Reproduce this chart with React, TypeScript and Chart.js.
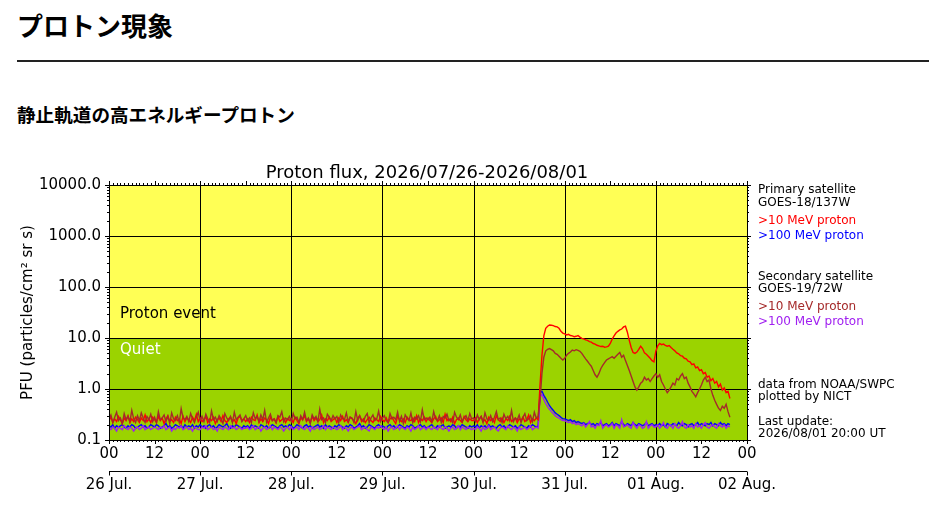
import React, { useRef, useEffect } from "react";
import { Chart, registerables } from "chart.js";

Chart.register(...registerables);

// 30-minute values from 26 Jul 00 UT, two rows per day
const STEP_HOURS = 0.5;

const GOES18_P10 = [
  0.24, 0.28, 0.22, 0.26, 0.23, 0.29, 0.25, 0.21, 0.27, 0.24, 0.30, 0.22, 0.26, 0.23, 0.28, 0.25, 0.22, 0.27, 0.24, 0.31, 0.23, 0.26, 0.22, 0.28,
  0.25, 0.22, 0.29, 0.24, 0.27, 0.21, 0.26, 0.30, 0.23, 0.25, 0.22, 0.28, 0.24, 0.26, 0.21, 0.29, 0.23, 0.27, 0.25, 0.22, 0.28, 0.24, 0.32, 0.23,
  0.27, 0.23, 0.25, 0.29, 0.22, 0.26, 0.24, 0.28, 0.21, 0.25, 0.27, 0.23, 0.30, 0.24, 0.22, 0.26, 0.28, 0.23, 0.25, 0.21, 0.27, 0.29, 0.24, 0.26,
  0.23, 0.26, 0.22, 0.28, 0.25, 0.24, 0.31, 0.22, 0.26, 0.23, 0.27, 0.25, 0.21, 0.28, 0.24, 0.26, 0.22, 0.29, 0.23, 0.25, 0.27, 0.22, 0.26, 0.24,
  0.26, 0.22, 0.28, 0.24, 0.21, 0.27, 0.25, 0.30, 0.23, 0.26, 0.22, 0.29, 0.24, 0.27, 0.23, 0.25, 0.31, 0.22, 0.26, 0.24, 0.28, 0.23, 0.25, 0.27,
  0.22, 0.27, 0.24, 0.29, 0.23, 0.25, 0.22, 0.28, 0.26, 0.24, 0.21, 0.27, 0.30, 0.23, 0.26, 0.22, 0.25, 0.28, 0.24, 0.22, 0.27, 0.25, 0.23, 0.29,
  0.25, 0.23, 0.27, 0.22, 0.26, 0.28, 0.24, 0.21, 0.29, 0.25, 0.23, 0.26, 0.22, 0.28, 0.25, 0.24, 0.27, 0.23, 0.30, 0.22, 0.26, 0.24, 0.28, 0.23,
  0.27, 0.24, 0.22, 0.26, 0.29, 0.23, 0.25, 0.27, 0.22, 0.32, 0.24, 0.26, 0.23, 0.28, 0.21, 0.25, 0.27, 0.24, 0.22, 0.29, 0.25, 0.23, 0.26, 0.24,
  0.24, 0.27, 0.22, 0.26, 0.29, 0.23, 0.25, 0.21, 0.28, 0.24, 0.26, 0.22, 0.30, 0.25, 0.23, 0.27, 0.22, 0.26, 0.24, 0.29, 0.23, 0.25, 0.27, 0.22,
  0.26, 0.24, 0.28, 0.23, 0.25, 0.31, 0.22, 0.26, 0.24, 0.27, 0.25, 1.2, 4.5, 11, 15.5, 17, 18, 17.8, 17.5, 16.8, 16.5, 15.5, 13.5, 12.5,
  12, 11.5, 11.8, 11.2, 11, 10.6, 10.8, 11.2, 10.4, 9.8, 9.6, 9.2, 9.0, 8.5, 8.3, 7.8, 7.6, 7.2, 7.0, 6.8, 6.9, 6.6, 6.7, 6.9,
  7.8, 9.5, 11, 12.5, 13.5, 14.4, 15, 16.5, 17, 13, 9, 6.5, 5.2, 5.0, 5.3, 6.0, 6.9, 6.2, 5.1, 4.8, 4.4, 4.0, 3.6, 3.4,
  5.5, 7.0, 7.8, 7.4, 7.6, 7.2, 6.9, 7.1, 6.5, 6.0, 5.6, 5.1, 4.9, 4.5, 4.4, 4.0, 3.9, 3.5, 3.4, 3.0, 3.1, 2.6, 2.7, 2.3,
  2.4, 2.0, 2.1, 1.7, 1.8, 1.45, 1.6, 1.3, 1.4, 1.1, 1.25, 0.95, 1.05, 0.85, 0.9, 0.65,
];

const GOES18_P100 = [
  0.19, 0.18, 0.20, 0.17, 0.19, 0.18, 0.19, 0.20, 0.18, 0.17, 0.19, 0.18, 0.20, 0.19, 0.17, 0.18, 0.19, 0.20, 0.18, 0.19, 0.17, 0.18, 0.20, 0.19,
  0.18, 0.20, 0.19, 0.17, 0.18, 0.19, 0.21, 0.18, 0.19, 0.17, 0.18, 0.20, 0.19, 0.18, 0.19, 0.17, 0.20, 0.18, 0.19, 0.18, 0.20, 0.17, 0.19, 0.18,
  0.20, 0.18, 0.19, 0.17, 0.19, 0.20, 0.18, 0.19, 0.17, 0.18, 0.20, 0.19, 0.18, 0.19, 0.21, 0.18, 0.17, 0.19, 0.18, 0.20, 0.19, 0.18, 0.17, 0.19,
  0.18, 0.19, 0.17, 0.20, 0.18, 0.19, 0.18, 0.17, 0.20, 0.19, 0.18, 0.19, 0.17, 0.18, 0.20, 0.19, 0.18, 0.17, 0.19, 0.20, 0.18, 0.19, 0.18, 0.20,
  0.19, 0.17, 0.18, 0.20, 0.19, 0.18, 0.17, 0.19, 0.20, 0.18, 0.19, 0.17, 0.18, 0.19, 0.20, 0.18, 0.19, 0.17, 0.20, 0.18, 0.19, 0.18, 0.17, 0.19,
  0.18, 0.20, 0.19, 0.18, 0.17, 0.19, 0.18, 0.20, 0.19, 0.17, 0.18, 0.19, 0.21, 0.18, 0.19, 0.17, 0.18, 0.20, 0.19, 0.18, 0.17, 0.19, 0.20, 0.18,
  0.19, 0.18, 0.17, 0.19, 0.20, 0.18, 0.19, 0.17, 0.18, 0.20, 0.19, 0.18, 0.17, 0.19, 0.18, 0.20, 0.19, 0.17, 0.18, 0.19, 0.20, 0.18, 0.19, 0.17,
  0.18, 0.19, 0.20, 0.18, 0.17, 0.19, 0.18, 0.19, 0.20, 0.17, 0.18, 0.19, 0.18, 0.20, 0.19, 0.17, 0.19, 0.18, 0.20, 0.19, 0.18, 0.17, 0.19, 0.18,
  0.19, 0.18, 0.20, 0.17, 0.19, 0.18, 0.19, 0.17, 0.20, 0.18, 0.19, 0.18, 0.17, 0.19, 0.20, 0.18, 0.19, 0.17, 0.18, 0.20, 0.19, 0.18, 0.19, 0.17,
  0.18, 0.20, 0.19, 0.18, 0.17, 0.19, 0.18, 0.20, 0.19, 0.18, 0.19, 0.85, 0.9, 0.75, 0.65, 0.55, 0.47, 0.42, 0.38, 0.34, 0.32, 0.3, 0.28, 0.26,
  0.26, 0.25, 0.24, 0.25, 0.23, 0.24, 0.22, 0.23, 0.22, 0.21, 0.22, 0.20, 0.21, 0.22, 0.20, 0.21, 0.19, 0.21, 0.20, 0.22, 0.19, 0.20, 0.21, 0.19,
  0.20, 0.22, 0.19, 0.21, 0.20, 0.19, 0.23, 0.20, 0.19, 0.21, 0.20, 0.19, 0.22, 0.20, 0.19, 0.21, 0.20, 0.19, 0.20, 0.22, 0.19, 0.20, 0.21, 0.19,
  0.20, 0.19, 0.21, 0.19, 0.20, 0.18, 0.21, 0.20, 0.19, 0.21, 0.20, 0.19, 0.22, 0.20, 0.19, 0.21, 0.20, 0.18, 0.20, 0.21,
  0.19, 0.20, 0.22, 0.19, 0.21, 0.20, 0.19, 0.21, 0.20, 0.22, 0.19, 0.21, 0.20, 0.19, 0.22, 0.20, 0.21, 0.19, 0.21, 0.20,
];

const GOES19_P10 = [
  0.26, 0.31, 0.22, 0.28, 0.35, 0.24, 0.27, 0.21, 0.33, 0.25, 0.29, 0.23, 0.38, 0.26, 0.22, 0.30, 0.24, 0.34, 0.27, 0.22, 0.29, 0.25, 0.32, 0.23,
  0.28, 0.22, 0.36, 0.25, 0.27, 0.31, 0.23, 0.29, 0.21, 0.34, 0.26, 0.24, 0.30, 0.22, 0.41, 0.27, 0.25, 0.29, 0.23, 0.33, 0.26, 0.22, 0.28, 0.35,
  0.24, 0.29, 0.23, 0.32, 0.26, 0.22, 0.37, 0.25, 0.28, 0.23, 0.30, 0.26, 0.21, 0.33, 0.27, 0.24, 0.29, 0.22, 0.35, 0.25, 0.28, 0.31, 0.23, 0.26,
  0.30, 0.24, 0.27, 0.22, 0.34, 0.26, 0.29, 0.23, 0.31, 0.25, 0.38, 0.22, 0.27, 0.32, 0.24, 0.26, 0.22, 0.30, 0.28, 0.36, 0.23, 0.27, 0.25, 0.29,
  0.23, 0.33, 0.26, 0.28, 0.22, 0.30, 0.25, 0.35, 0.24, 0.27, 0.21, 0.31, 0.26, 0.29, 0.23, 0.40, 0.25, 0.27, 0.22, 0.32, 0.28, 0.24, 0.30, 0.26,
  0.29, 0.22, 0.31, 0.26, 0.25, 0.34, 0.23, 0.28, 0.27, 0.22, 0.36, 0.24, 0.30, 0.25, 0.23, 0.29, 0.33, 0.22, 0.27, 0.31, 0.24, 0.26, 0.37, 0.23,
  0.27, 0.30, 0.24, 0.22, 0.33, 0.26, 0.28, 0.25, 0.35, 0.23, 0.29, 0.21, 0.31, 0.27, 0.24, 0.34, 0.22, 0.28, 0.26, 0.30, 0.23, 0.39, 0.25, 0.27,
  0.25, 0.28, 0.23, 0.36, 0.26, 0.24, 0.30, 0.22, 0.29, 0.27, 0.32, 0.24, 0.26, 0.22, 0.35, 0.28, 0.25, 0.31, 0.23, 0.27, 0.30, 0.24, 0.33, 0.26,
  0.27, 0.23, 0.31, 0.25, 0.29, 0.22, 0.34, 0.26, 0.24, 0.30, 0.23, 0.28, 0.36, 0.25, 0.27, 0.22, 0.32, 0.26, 0.29, 0.24, 0.38, 0.23, 0.27, 0.25,
  0.31, 0.22, 0.28, 0.33, 0.24, 0.26, 0.30, 0.23, 0.35, 0.27, 0.29, 0.6, 2.0, 4.2, 5.6, 6.0, 6.2, 5.9, 5.6, 5.0, 4.8, 4.4, 4.0, 3.7,
  4.0, 4.6, 5.0, 5.3, 5.8, 5.6, 5.9, 5.7, 5.5, 5.0, 4.4, 3.9, 3.5, 3.1, 2.8, 2.3, 1.9, 1.7, 2.0, 2.5, 2.9, 3.3, 3.7, 3.9,
  4.1, 4.3, 4.0, 4.4, 4.8, 5.2, 4.2, 4.6, 3.6, 2.9, 2.3, 1.8, 1.4, 1.1, 0.95, 1.1, 1.3, 1.4, 1.7, 1.5, 1.6, 1.4, 1.6, 1.8,
  2.0, 1.7, 1.9, 1.4, 1.2, 1.0, 0.85, 0.95, 1.1, 1.3, 1.2, 1.6, 1.5, 1.8, 2.0, 1.6, 1.7, 1.3, 1.1, 0.9, 0.8, 0.7, 0.85, 1.0,
  1.2, 1.5, 1.7, 1.4, 1.5, 1.0, 0.75, 0.6, 0.5, 0.42, 0.38, 0.46, 0.42, 0.5, 0.36, 0.28,
];

const GOES19_P100 = [
  0.17, 0.16, 0.18, 0.17, 0.15, 0.18, 0.17, 0.16, 0.19, 0.17, 0.16, 0.18, 0.17, 0.15, 0.17, 0.18, 0.16, 0.17, 0.19, 0.16, 0.17, 0.18, 0.16, 0.17,
  0.18, 0.17, 0.16, 0.18, 0.17, 0.19, 0.16, 0.17, 0.18, 0.15, 0.17, 0.16, 0.18, 0.17, 0.19, 0.16, 0.17, 0.18, 0.16, 0.17, 0.15, 0.18, 0.17, 0.16,
  0.16, 0.18, 0.17, 0.19, 0.16, 0.17, 0.18, 0.16, 0.17, 0.15, 0.18, 0.17, 0.16, 0.18, 0.17, 0.16, 0.19, 0.17, 0.18, 0.16, 0.17, 0.18, 0.16, 0.17,
  0.17, 0.18, 0.16, 0.17, 0.19, 0.16, 0.17, 0.18, 0.15, 0.17, 0.18, 0.16, 0.17, 0.19, 0.16, 0.18, 0.17, 0.16, 0.18, 0.17, 0.15, 0.17, 0.18, 0.16,
  0.18, 0.16, 0.17, 0.18, 0.16, 0.19, 0.17, 0.16, 0.18, 0.17, 0.15, 0.18, 0.16, 0.17, 0.18, 0.16, 0.17, 0.19, 0.16, 0.18, 0.17, 0.16, 0.18, 0.17,
  0.16, 0.17, 0.19, 0.16, 0.18, 0.17, 0.15, 0.17, 0.18, 0.16, 0.17, 0.18, 0.19, 0.16, 0.17, 0.18, 0.16, 0.15, 0.18, 0.17, 0.16, 0.18, 0.17, 0.19,
  0.17, 0.16, 0.18, 0.15, 0.17, 0.18, 0.16, 0.17, 0.19, 0.16, 0.18, 0.17, 0.16, 0.18, 0.17, 0.15, 0.18, 0.16, 0.17, 0.19, 0.16, 0.17, 0.18, 0.16,
  0.18, 0.17, 0.16, 0.18, 0.17, 0.16, 0.19, 0.17, 0.16, 0.18, 0.17, 0.15, 0.17, 0.18, 0.16, 0.17, 0.19, 0.16, 0.18, 0.17, 0.16, 0.18, 0.17, 0.16,
  0.17, 0.16, 0.18, 0.17, 0.15, 0.18, 0.16, 0.17, 0.19, 0.16, 0.17, 0.18, 0.16, 0.15, 0.17, 0.18, 0.17, 0.16, 0.19, 0.17, 0.16, 0.18, 0.17, 0.15,
  0.18, 0.16, 0.17, 0.18, 0.16, 0.17, 0.19, 0.16, 0.17, 0.18, 0.17, 0.7, 0.78, 0.62, 0.52, 0.45, 0.4, 0.36, 0.33, 0.3, 0.28, 0.27, 0.25, 0.24,
  0.24, 0.23, 0.22, 0.23, 0.21, 0.22, 0.20, 0.21, 0.20, 0.19, 0.21, 0.18, 0.20, 0.23, 0.18, 0.19, 0.17, 0.20, 0.19, 0.24, 0.17, 0.19, 0.20, 0.18,
  0.19, 0.21, 0.17, 0.20, 0.19, 0.17, 0.25, 0.18, 0.19, 0.20, 0.18, 0.17, 0.22, 0.19, 0.17, 0.20, 0.19, 0.17, 0.18, 0.23, 0.17, 0.19, 0.20, 0.18,
  0.18, 0.20, 0.17, 0.19, 0.22, 0.18, 0.17, 0.20, 0.19, 0.17, 0.21, 0.18, 0.17, 0.19, 0.23, 0.18, 0.17, 0.20, 0.18, 0.19,
  0.17, 0.21, 0.18, 0.19, 0.17, 0.20, 0.22, 0.18, 0.17, 0.19, 0.20, 0.18, 0.17, 0.21, 0.19, 0.18, 0.20, 0.17, 0.19, 0.18,
];

const DAY_LABELS = ["26 Jul.", "27 Jul.", "28 Jul.", "29 Jul.", "30 Jul.", "31 Jul.", "01 Aug.", "02 Aug."];
const Y_TICKS = [0.1, 1, 10, 100, 1000, 10000];

const YELLOW = "#FFFF55";
const GREEN = "#9BD300";
const FONT = "'DejaVu Sans'";

const toPoints = (arr: number[]) => arr.map((v, i) => ({ x: i * STEP_HOURS, y: v }));

const decor = {
  id: "decor",
  beforeDatasetsDraw(chart: any) {
    const { ctx, chartArea: a, scales } = chart;
    const x = scales.x, y = scales.y;
    const y10 = y.getPixelForValue(10);
    ctx.save();
    ctx.fillStyle = YELLOW;
    ctx.fillRect(a.left, a.top, a.right - a.left, y10 - a.top);
    ctx.fillStyle = GREEN;
    ctx.fillRect(a.left, y10, a.right - a.left, a.bottom - y10);

    ctx.strokeStyle = "#000";
    ctx.lineWidth = 1;
    ctx.beginPath();
    for (const v of [1, 10, 100, 1000]) {
      const py = Math.round(y.getPixelForValue(v)) + 0.5;
      ctx.moveTo(a.left, py);
      ctx.lineTo(a.right, py);
    }
    for (let d = 1; d < 7; d++) {
      const px = Math.round(x.getPixelForValue(d * 24)) + 0.5;
      ctx.moveTo(px, a.top);
      ctx.lineTo(px, a.bottom);
    }
    ctx.stroke();

    ctx.font = `15px ${FONT}`;
    ctx.textAlign = "left";
    ctx.textBaseline = "middle";
    ctx.fillStyle = "#000";
    ctx.fillText("Proton event", a.left + 11, y.getPixelForValue(29));
    ctx.fillStyle = "#fff";
    ctx.fillText("Quiet", a.left + 11, y.getPixelForValue(5.8));
    ctx.restore();
  },
  afterDraw(chart: any) {
    const { ctx, chartArea: a, scales } = chart;
    const x = scales.x, y = scales.y;
    ctx.save();
    ctx.strokeStyle = "#000";
    ctx.lineWidth = 1;
    ctx.strokeRect(Math.round(a.left) + 0.5, Math.round(a.top) + 0.5, Math.round(a.right - a.left), Math.round(a.bottom - a.top));

    ctx.beginPath();
    for (let h = 0; h <= 168; h++) {
      const px = Math.round(x.getPixelForValue(h)) + 0.5;
      const len = h % 12 === 0 ? 4 : 2;
      ctx.moveTo(px, a.bottom);
      ctx.lineTo(px, a.bottom + len);
      ctx.moveTo(px, a.top);
      ctx.lineTo(px, a.top - len);
    }
    for (let e = -1; e <= 4; e++) {
      for (let m = 1; m < 10; m++) {
        const v = m * Math.pow(10, e);
        if (v > 10000) break;
        const py = Math.round(y.getPixelForValue(v)) + 0.5;
        const len = m === 1 ? 4 : 2;
        ctx.moveTo(a.left, py);
        ctx.lineTo(a.left - len, py);
        ctx.moveTo(a.right, py);
        ctx.lineTo(a.right + len, py);
      }
    }
    ctx.stroke();

    // date axis under the hour labels
    const dy = a.bottom + 31.5;
    ctx.beginPath();
    ctx.moveTo(a.left, dy);
    ctx.lineTo(a.right, dy);
    DAY_LABELS.forEach((_, d) => {
      const px = Math.round(x.getPixelForValue(d * 24)) + 0.5;
      ctx.moveTo(px, dy);
      ctx.lineTo(px, dy + 4);
    });
    ctx.stroke();
    ctx.fillStyle = "#000";
    ctx.font = `15px ${FONT}`;
    ctx.textAlign = "center";
    ctx.textBaseline = "middle";
    DAY_LABELS.forEach((lbl, d) => {
      ctx.fillText(lbl, x.getPixelForValue(d * 24), dy + 14);
    });

    // title
    ctx.font = `18px ${FONT}`;
    ctx.textBaseline = "alphabetic";
    ctx.fillText("Proton flux, 2026/07/26-2026/08/01", (a.left + a.right) / 2 - 1, a.top - 7);

    // y title
    ctx.save();
    ctx.translate(28, (a.top + a.bottom) / 2);
    ctx.rotate(-Math.PI / 2);
    ctx.font = `15px ${FONT}`;
    ctx.textBaseline = "middle";
    ctx.fillText("PFU (particles/cm\u00b2 sr s)", 0, 0);
    ctx.restore();

    // side notes
    const tx = a.right + 11;
    const notes: [string, string, number][] = [
      ["Primary satellite", "#000", 5],
      ["GOES-18/137W", "#000", 18.3],
      [">10 MeV proton", "#FF0000", 35.7],
      [">100 MeV proton", "#0000FF", 51],
      ["Secondary satellite", "#000", 91.7],
      ["GOES-19/72W", "#000", 104.3],
      [">10 MeV proton", "#A52A2A", 121.7],
      [">100 MeV proton", "#A020F0", 137.3],
      ["data from NOAA/SWPC", "#000", 200],
      ["plotted by NICT", "#000", 211.7],
      ["Last update:", "#000", 236.7],
      ["2026/08/01 20:00 UT", "#000", 249.3],
    ];
    ctx.font = `12px ${FONT}`;
    ctx.textAlign = "left";
    ctx.textBaseline = "middle";
    for (const [t, c, off] of notes) {
      ctx.fillStyle = c;
      ctx.fillText(t, tx, a.top + off);
    }
    ctx.restore();
  },
};

function ProtonChart() {
  const chartRef = useRef<HTMLCanvasElement>(null);
  const chartInstance = useRef<Chart | null>(null);

  useEffect(() => {
    if (chartInstance.current) {
      chartInstance.current.destroy();
      chartInstance.current = null;
    }
    const ctx = chartRef.current?.getContext("2d");
    if (!ctx) return;

    const line = (data: number[], color: string) => ({
      data: toPoints(data),
      borderColor: color,
      borderWidth: 1.4,
      pointRadius: 0,
      fill: false,
      tension: 0,
    });

    chartInstance.current = new Chart(ctx, {
      type: "line",
      data: {
        datasets: [
          line(GOES19_P10, "#A52A2A"),
          line(GOES18_P10, "#FF0000"),
          line(GOES19_P100, "#A020F0"),
          line(GOES18_P100, "#0000FF"),
        ],
      },
      options: {
        responsive: false,
        animation: false,
        events: [],
        layout: { padding: { left: 0, right: 193, top: 45, bottom: 0 } },
        plugins: { legend: { display: false }, title: { display: false }, tooltip: { enabled: false } },
        scales: {
          x: {
            type: "linear",
            min: 0,
            max: 168,
            grid: { display: false, drawTicks: false },
            border: { display: false },
            ticks: {
              stepSize: 12,
              padding: 5,
              color: "#000",
              font: { family: FONT, size: 15 },
              maxRotation: 0,
              autoSkip: false,
              callback: (v: any) => (Number(v) % 24 === 0 ? "00" : "12"),
            },
            afterFit: (s: any) => {
              s.height = 69;
            },
          },
          y: {
            type: "logarithmic",
            min: 0.1,
            max: 10000,
            grid: { display: false, drawTicks: false },
            border: { display: false },
            ticks: {
              padding: 8,
              color: "#000",
              font: { family: FONT, size: 15 },
              autoSkip: false,
              callback: (v: any) => Number(v).toFixed(1),
            },
            afterBuildTicks: (s: any) => {
              s.ticks = Y_TICKS.map((v) => ({ value: v }));
            },
            afterFit: (s: any) => {
              s.width = 109;
            },
          },
        },
      },
      plugins: [decor],
    } as any);

    return () => {
      if (chartInstance.current) {
        chartInstance.current.destroy();
        chartInstance.current = null;
      }
    };
  }, []);

  return (
    <canvas
      ref={chartRef}
      width={940}
      height={369}
      style={{ position: "absolute", left: 0, top: 140, width: 940, height: 369 }}
    />
  );
}

export default function App() {
  return (
    <div
      style={{
        position: "absolute",
        left: 0,
        top: 0,
        width: 940,
        height: 509,
        background: "#fff",
        overflow: "hidden",
        fontFamily: "'Noto Sans CJK JP', sans-serif",
        color: "#000",
      }}
    >
      <div style={{ position: "absolute", left: 17, top: 7, fontSize: 26, fontWeight: 700, lineHeight: "36px" }}>
        プロトン現象
      </div>
      <div style={{ position: "absolute", left: 17, top: 60, width: 912, height: 2, background: "#222" }} />
      <div style={{ position: "absolute", left: 17, top: 100, fontSize: 18.6, fontWeight: 700, lineHeight: "28px" }}>
        静止軌道の高エネルギープロトン
      </div>
      <ProtonChart />
    </div>
  );
}
